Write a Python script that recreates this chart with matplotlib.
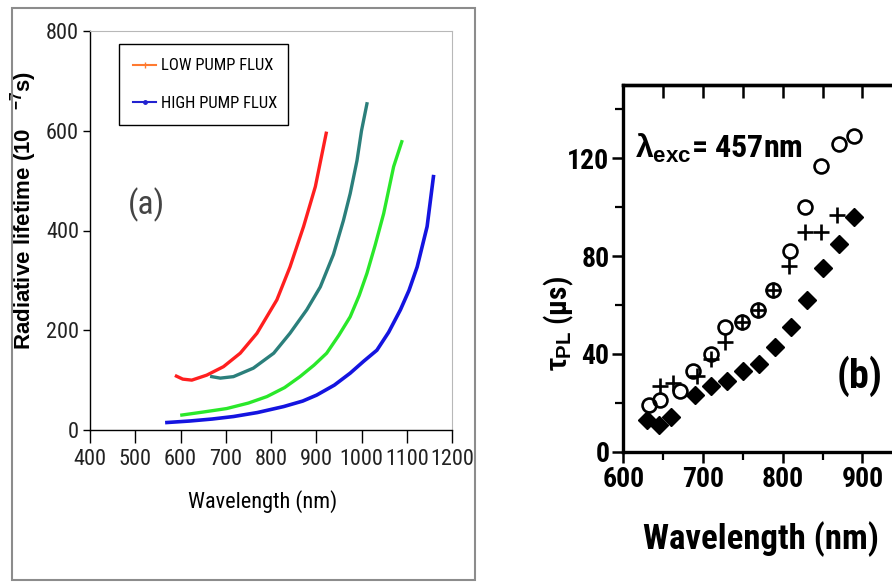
"""Two-panel figure: radiative lifetime curves (a) and PL lifetime points (b)."""

import matplotlib
matplotlib.use("Agg")
import matplotlib.pyplot as plt
from matplotlib import font_manager as fm
from matplotlib.lines import Line2D
from matplotlib.patches import Rectangle
from matplotlib.ticker import MultipleLocator

# ---- panel (a): radiative lifetime (1e-7 s) vs wavelength (nm)
red_x = [591, 605, 625, 658, 695, 732, 769, 813, 842, 872, 898, 922]
red_y = [108, 102, 100, 110, 127, 154, 194, 261, 327, 408, 488, 595]

teal_x = [669, 688, 717, 761, 806, 842, 879, 909, 938, 960, 975, 990, 1000, 1012]
teal_y = [107, 104, 107, 124, 154, 194, 241, 287, 352, 420, 474, 540, 600, 654]

green_x = [603, 650, 702, 750, 791, 830, 864, 895, 923, 950, 975, 995, 1012, 1030, 1049, 1071, 1089]
green_y = [30, 36, 43, 54, 67, 85, 107, 130, 154, 190, 227, 270, 314, 370, 434, 528, 578]

blue_x = [570, 620, 670, 717, 770, 828, 870, 901, 940, 975, 1005, 1034, 1060, 1086, 1105, 1123, 1145, 1159]
blue_y = [15, 18, 22, 27, 35, 47, 58, 70, 90, 114, 138, 160, 196, 241, 280, 327, 408, 508]

legend_labels = ["LOW PUMP FLUX", "HIGH PUMP FLUX"]

# ---- panel (b): tau_PL (us) vs wavelength (nm)
diamond_x = [630, 645, 660, 690, 710, 730, 750, 770, 790, 810, 830, 850, 870, 890]
diamond_y = [13, 11, 14, 23, 27, 29, 33, 36, 43, 51, 62, 75, 85, 96]

circle_x = [632, 646, 671, 688, 710, 728, 749, 769, 788, 809, 828, 848, 870, 889]
circle_y = [19, 21, 25, 33, 40, 51, 53, 58, 66, 82, 100, 117, 126, 129]

plus_x = [646, 662, 692, 710, 728, 749, 769, 788, 808, 828, 848, 868]
plus_y = [27, 28, 31, 38, 45, 53, 58, 66, 76, 90, 90, 97]

W, H = 892, 585


def pick_narrow_font():
    """Look for a condensed sans face; the scanned figure uses narrow type."""
    wanted = ["Liberation Sans Narrow", "Arial Narrow", "Roboto Condensed",
              "DejaVu Sans", "Noto Sans", "Open Sans", "Nimbus Sans Narrow"]
    found = set()
    for f in fm.fontManager.ttflist:
        st = f.stretch
        cond = ("condensed" in st) if isinstance(st, str) else st < 500
        if "Narrow" in f.name or "Condensed" in f.name:
            cond = True
        if cond and "Mono" not in f.name and "Serif" not in f.name:
            found.add(f.name)
    for name in wanted:
        if name in found:
            return name
    return sorted(found)[0] if found else None


NARROW = pick_narrow_font()
if NARROW:
    plt.rcParams["font.family"] = [NARROW, "Liberation Sans", "DejaVu Sans"]
    plt.rcParams["font.stretch"] = "condensed"
    k = 1.0
else:
    plt.rcParams["font.family"] = ["Liberation Sans", "DejaVu Sans"]
    k = 0.84
plt.rcParams["mathtext.fontset"] = "custom"
plt.rcParams["mathtext.rm"] = "Liberation Sans:bold"
plt.rcParams["mathtext.it"] = "Liberation Sans:bold"
plt.rcParams["mathtext.bf"] = "Liberation Sans:bold"

fig = plt.figure(figsize=(W / 100, H / 100), dpi=100)

# grey frame around panel (a)
fig.add_artist(Rectangle((12 / W, 1 - 580 / H), 463 / W, 572 / H,
                         transform=fig.transFigure, fill=False,
                         edgecolor="#8c8c8c", lw=1.5))

# ---------------- panel (a)
ax1 = fig.add_axes([90 / W, 1 - 430 / H, 362 / W, 399 / H])
ax1.plot(red_x, red_y, color="#ff1f1f", lw=2.4)
ax1.plot(teal_x, teal_y, color="#2b7f7b", lw=2.4)
ax1.plot(green_x, green_y, color="#2ae82a", lw=2.4)
ax1.plot(blue_x, blue_y, color="#1414e0", lw=2.6)

ax1.set_xlim(400, 1200)
ax1.set_ylim(0, 800)
ax1.xaxis.set_major_locator(MultipleLocator(100))
ax1.yaxis.set_major_locator(MultipleLocator(200))
ax1.tick_params(axis="x", direction="out", length=9, width=1,
                labelsize=16 * k, labelcolor="#222222", pad=5)
ax1.tick_params(axis="y", direction="out", length=5, width=1,
                labelsize=16 * k, labelcolor="#222222", pad=3)
for side in ("top", "right"):
    ax1.spines[side].set_color("#b8b8b8")
    ax1.spines[side].set_linewidth(0.8)
for side in ("left", "bottom"):
    ax1.spines[side].set_linewidth(1.0)

ax1.set_xlabel("Wavelength (nm)", fontsize=16 * k)
ax1.xaxis.set_label_coords(0.478, -0.15)
ax1.set_ylabel(r"Radiative lifetime (10   $^{-7}$s)", fontsize=16,
               fontweight="bold", family=["Liberation Sans", "DejaVu Sans"],
               fontstretch="normal")
ax1.yaxis.set_label_coords(-0.14, 0.55)

ax1.text(0.155, 0.564, "(a)", transform=ax1.transAxes, fontsize=24 * k,
         color="#444444", ha="center", va="center")

handles = [
    Line2D([], [], color="#ff7a30", lw=1.5, marker="|", ms=4),
    Line2D([], [], color="#2222d0", lw=1.5, marker=".", ms=5),
]
leg = ax1.legend(handles, legend_labels, loc="upper left",
                 bbox_to_anchor=(0.08, 0.767, 0.467, 0.2), mode="expand",
                 borderaxespad=0, fancybox=False, edgecolor="black",
                 framealpha=1, fontsize=12 * k, handlelength=1.4,
                 labelspacing=1.35, borderpad=0.85, handletextpad=0.3)
leg.get_frame().set_linewidth(1.0)

# ---------------- panel (b)
ax2 = fig.add_axes([623.3 / W, 1 - 451.7 / H, 287 / W, 366.7 / H])
ax2.plot(diamond_x, diamond_y, ls="none", marker="D", ms=9.5,
         color="black")
ax2.plot(circle_x, circle_y, ls="none", marker="o", ms=10, mfc="none",
         mec="black", mew=1.9)
ax2.plot(plus_x, plus_y, ls="none", marker="+", ms=12, mew=1.9,
         color="black")

ax2.set_xlim(600, 960)
ax2.set_ylim(0, 150)
ax2.xaxis.set_major_locator(MultipleLocator(100))
ax2.xaxis.set_minor_locator(MultipleLocator(50))
ax2.yaxis.set_major_locator(MultipleLocator(40))
ax2.yaxis.set_minor_locator(MultipleLocator(20))
ax2.tick_params(axis="both", which="major", direction="out", length=8,
                width=1.8, labelsize=20 * k, pad=2)
ax2.tick_params(axis="both", which="minor", direction="out", length=6,
                width=1.6)
for lbl in ax2.get_xticklabels() + ax2.get_yticklabels():
    lbl.set_fontweight("bold")
for sp in ax2.spines.values():
    sp.set_linewidth(2.4)

top = ax2.secondary_xaxis("top")
top.xaxis.set_major_locator(MultipleLocator(50))
top.tick_params(direction="in", length=9, width=1.8, labeltop=False)
top.spines["top"].set_linewidth(2.4)

ax2.set_xlabel("Wavelength (nm)", fontsize=25 * k, fontweight="bold")
ax2.xaxis.set_label_coords(0.48, -0.19)
ax2.set_ylabel(r"$\tau_{PL}$ (μs)", fontsize=21 * k, fontweight="bold")
ax2.yaxis.set_label_coords(-0.165, 0.35)

ax2.text(0.04, 0.80, r"$\lambda_{exc}$= 457nm", transform=ax2.transAxes,
         fontsize=23 * k, fontweight="bold", ha="left", va="baseline")
ax2.text(0.822, 0.206, "(b)", transform=ax2.transAxes, fontsize=29 * k,
         fontweight="bold", ha="center", va="center")

fig.savefig("out.png", dpi=100)
